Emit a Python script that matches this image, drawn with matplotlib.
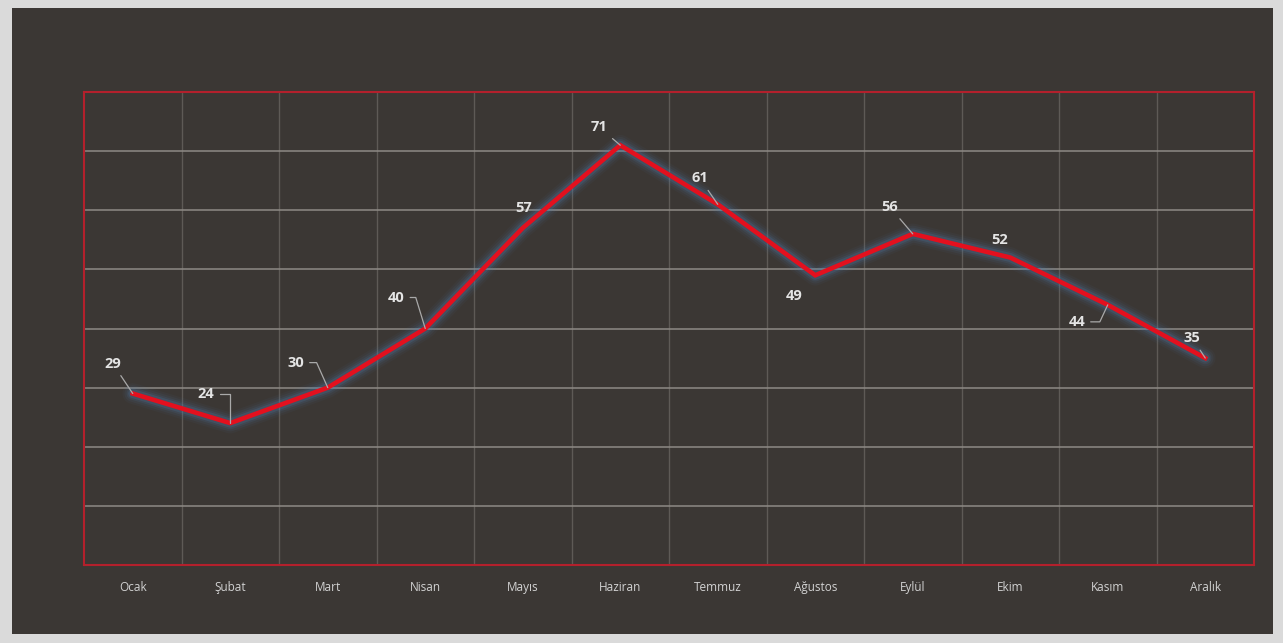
import matplotlib
matplotlib.use("Agg")
import matplotlib.pyplot as plt
from matplotlib.patches import Rectangle
from matplotlib.ticker import MultipleLocator, FixedLocator

months = ["Ocak", "Şubat", "Mart", "Nisan", "Mayıs", "Haziran",
          "Temmuz", "Ağustos", "Eylül", "Ekim", "Kasım", "Aralık"]
values = [29, 24, 30, 40, 57, 71, 61, 49, 56, 52, 44, 35]

# label offsets (pixels) from each point, and the leader-line style per label
label_offsets = [(-20, 30), (-24, 29), (-32, 25), (-29, 31), (1, 20), (-21, 18),
                 (-18, 26), (-21, -21), (-23, 27), (-11, 18), (-31, -17), (-13, 20)]
leader_styles = ["arc3", "angle,angleA=0,angleB=90,rad=0",
                 "angle,angleA=0,angleB=114,rad=0", "angle,angleA=0,angleB=107,rad=0",
                 None, "arc3", "arc3", None, "arc3", None,
                 "angle,angleA=0,angleB=-115,rad=0", "arc3"]

W, H = 1283, 643
fig = plt.figure(figsize=(W / 100, H / 100), dpi=100, facecolor="#dadada")
fig.patches.append(Rectangle((12 / W, (H - 634) / H), (1273 - 12) / W, (634 - 8) / H,
                             transform=fig.transFigure, facecolor="#3b3734",
                             edgecolor="none", zorder=-10))

ax = fig.add_axes([84 / W, (H - 565) / H, (1254 - 84) / W, (565 - 92) / H])
ax.set_zorder(1)
ax.set_facecolor("#3b3734")
ax.set_xlim(-0.5, len(months) - 0.5)
ax.set_ylim(0, 80)

ax.yaxis.set_major_locator(MultipleLocator(10))
ax.xaxis.set_major_locator(FixedLocator(range(len(months))))
ax.xaxis.set_minor_locator(FixedLocator([i + 0.5 for i in range(len(months) - 1)]))
ax.set_xticklabels(months, fontsize=8.5, color="#d2d2d2", family="Open Sans")
ax.set_yticklabels([])
ax.tick_params(axis="both", which="both", length=0)
ax.tick_params(axis="x", pad=11.5)

ax.grid(True, axis="y", which="major", color="#8e8a85", lw=1.1)
ax.grid(True, axis="x", which="minor", color="#5e5a56", lw=1.0)
ax.grid(False, axis="x", which="major")
ax.set_axisbelow(True)
for s in ax.spines.values():
    s.set_color("#b3202c")
    s.set_linewidth(1.5)

x = list(range(len(months)))
# soft bluish glow under the line
for lw, a in [(15, 0.05), (12, 0.08), (9, 0.12), (6.5, 0.2)]:
    ax.plot(x, values, color="#4f7fae", lw=lw, alpha=a,
            solid_joinstyle="round", solid_capstyle="round", zorder=3)
ax.plot(x, values, color="#e3101e", lw=3.3, solid_joinstyle="miter", zorder=4)

for xi, v, (dx, dy), style in zip(x, values, label_offsets, leader_styles):
    arrow = None
    if style is not None:
        arrow = dict(arrowstyle="-", color="#a9a9a9", lw=0.9,
                     connectionstyle=style, shrinkA=2, shrinkB=0)
    ax.annotate(str(v), xy=(xi, v), xytext=(dx * 0.72, dy * 0.72),
                textcoords="offset points", ha="center", va="center",
                fontsize=10.5, fontweight="bold", color="#e4e4e4",
                family="Open Sans", arrowprops=arrow, zorder=5)

fig.savefig("out.png", dpi=100, facecolor=fig.get_facecolor())
